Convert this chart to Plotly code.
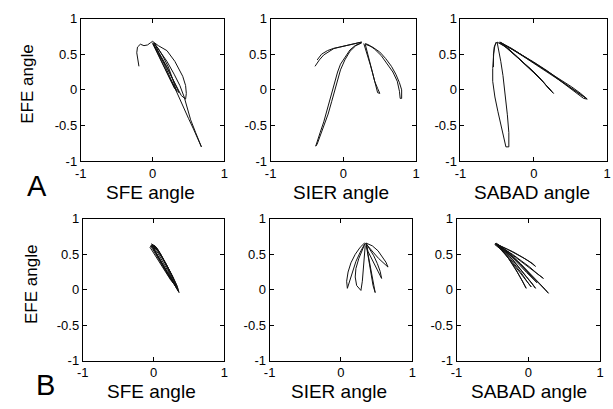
import plotly.graph_objects as go

W, H = 613, 409

# ---------------- data ----------------
x_ticks = [-1, 0, 1]
x_ticktext = ["-1", "0", "1"]
y_ticks = [-1, -0.5, 0, 0.5, 1]
y_ticktext = ["-1", "-0.5", "0", "0.5", "1"]

x_titles = ["SFE angle", "SIER angle", "SABAD angle"]
y_title = "EFE angle"
row_labels = ["A", "B"]

# Panel A1: SFE vs EFE
a1_hook_x = [-0.19, -0.20, -0.22, -0.21, -0.17, -0.12, -0.07, -0.03, 0.0]
a1_hook_y = [0.33, 0.42, 0.52, 0.60, 0.64, 0.62, 0.63, 0.66, 0.68]
a1_loop1_x = [0.0, 0.08, 0.20, 0.31, 0.42, 0.46, 0.47, 0.46, 0.40, 0.33, 0.19, 0.08, 0.01]
a1_loop1_y = [0.68, 0.62, 0.55, 0.40, 0.19, 0.06, -0.05, -0.13, -0.08, 0.06, 0.33, 0.51, 0.64]
a1_loop2_x = [0.01, 0.08, 0.15, 0.22, 0.28, 0.33, 0.30, 0.24, 0.15, 0.07, 0.02]
a1_loop2_y = [0.66, 0.58, 0.46, 0.32, 0.15, -0.01, 0.03, 0.15, 0.35, 0.52, 0.63]
a1_loop3_x = [0.02, 0.10, 0.20, 0.30, 0.38, 0.44, 0.48, 0.53, 0.60, 0.68,
              0.64, 0.57, 0.50, 0.44, 0.38, 0.33, 0.26, 0.18, 0.10, 0.03]
a1_loop3_y = [0.66, 0.55, 0.40, 0.22, 0.06, -0.10, -0.25, -0.42, -0.60, -0.80,
              -0.70, -0.55, -0.40, -0.27, -0.14, -0.02, 0.14, 0.32, 0.50, 0.65]
a1_loop4_x = [0.0, 0.06, 0.13, 0.20, 0.27, 0.34, 0.37, 0.33, 0.26, 0.18, 0.10, 0.04, 0.0]
a1_loop4_y = [0.66, 0.57, 0.45, 0.32, 0.17, 0.02, -0.04, 0.0, 0.12, 0.28, 0.44, 0.57, 0.65]

# Panel A2: SIER vs EFE
a2_arc_x = [-0.39, -0.33, -0.27, -0.20, -0.13, -0.05, 0.05, 0.15, 0.25,
            0.15, 0.05, -0.05, -0.14, -0.22, -0.30, -0.36]
a2_arc_y = [0.33, 0.42, 0.49, 0.54, 0.58, 0.60, 0.62, 0.64, 0.67,
            0.65, 0.62, 0.60, 0.58, 0.55, 0.50, 0.42]
a2_long_x = [0.25, 0.16, 0.09, 0.02, -0.04, -0.08, -0.11, -0.14, -0.18, -0.22, -0.27, -0.32, -0.38,
             -0.36, -0.31, -0.26, -0.21, -0.16, -0.12, -0.08, -0.04, 0.02, 0.09, 0.17, 0.25]
a2_long_y = [0.66, 0.62, 0.56, 0.46, 0.36, 0.25, 0.14, 0.02, -0.12, -0.30, -0.45, -0.60, -0.79,
             -0.76, -0.62, -0.48, -0.34, -0.16, 0.00, 0.15, 0.28, 0.42, 0.54, 0.62, 0.66]
a2_mid_x = [0.28, 0.31, 0.34, 0.37, 0.40, 0.43, 0.47, 0.50, 0.47, 0.44, 0.41, 0.38, 0.35, 0.32, 0.30]
a2_mid_y = [0.65, 0.56, 0.46, 0.35, 0.24, 0.12, 0.02, -0.05, -0.04, 0.08, 0.22, 0.36, 0.48, 0.58, 0.64]
a2_right_x = [0.30, 0.40, 0.50, 0.58, 0.66, 0.72, 0.77, 0.80, 0.80,
              0.78, 0.77, 0.74, 0.68, 0.60, 0.52, 0.43, 0.35, 0.30]
a2_right_y = [0.64, 0.60, 0.53, 0.44, 0.33, 0.22, 0.10, 0.00, -0.12,
              -0.12, -0.02, 0.12, 0.25, 0.37, 0.48, 0.57, 0.63, 0.65]

# Panel A3: SABAD vs EFE
a3_start_x = [-0.55, -0.55, -0.53, -0.51]
a3_start_y = [0.32, 0.50, 0.62, 0.67]
a3_vert_x = [-0.51, -0.54, -0.55, -0.56, -0.56, -0.53, -0.49, -0.45, -0.41, -0.38,
             -0.34, -0.34, -0.36, -0.39, -0.42, -0.45, -0.48, -0.50]
a3_vert_y = [0.67, 0.60, 0.45, 0.30, 0.12, -0.10, -0.30, -0.50, -0.68, -0.80,
             -0.80, -0.60, -0.35, -0.05, 0.20, 0.40, 0.58, 0.67]
a3_mid1_x = [-0.50, -0.38, -0.25, -0.12, 0.0, 0.10, 0.19, 0.27, 0.25, 0.15, 0.03, -0.10, -0.22, -0.34, -0.45]
a3_mid1_y = [0.67, 0.60, 0.48, 0.36, 0.24, 0.14, 0.04, -0.05, -0.03, 0.09, 0.22, 0.34, 0.46, 0.57, 0.66]
a3_mid2_x = [-0.47, -0.35, -0.22, -0.10, 0.02, 0.14, 0.24, 0.20, 0.08, -0.05, -0.18, -0.30, -0.42]
a3_mid2_y = [0.66, 0.58, 0.46, 0.35, 0.23, 0.10, -0.02, 0.04, 0.17, 0.30, 0.42, 0.53, 0.63]
a3_far1_x = [-0.46, -0.30, -0.12, 0.05, 0.22, 0.38, 0.52, 0.64, 0.73,
             0.68, 0.55, 0.40, 0.24, 0.08, -0.08, -0.24, -0.38, -0.47]
a3_far1_y = [0.67, 0.58, 0.46, 0.35, 0.24, 0.13, 0.04, -0.05, -0.13,
             -0.12, -0.02, 0.10, 0.22, 0.33, 0.44, 0.54, 0.62, 0.67]
a3_far2_x = [-0.45, -0.28, -0.10, 0.08, 0.26, 0.42, 0.58, 0.72, 0.64, 0.50, 0.34, 0.18, 0.0, -0.18, -0.34, -0.45]
a3_far2_y = [0.66, 0.56, 0.44, 0.32, 0.20, 0.09, -0.02, -0.12, -0.07, 0.03, 0.15, 0.27, 0.39, 0.50, 0.60, 0.66]

# Panel B1: SFE vs EFE
b1_l1_x = [-0.03, 0.02, 0.08, 0.15, 0.22, 0.29, 0.34, 0.36, 0.30, 0.22, 0.14, 0.07, 0.01, -0.03]
b1_l1_y = [0.64, 0.62, 0.54, 0.42, 0.28, 0.14, 0.03, -0.04, 0.06, 0.20, 0.34, 0.46, 0.56, 0.63]
b1_l2_x = [-0.02, 0.04, 0.10, 0.17, 0.24, 0.30, 0.32, 0.26, 0.18, 0.10, 0.03, -0.02]
b1_l2_y = [0.64, 0.60, 0.50, 0.38, 0.24, 0.10, 0.04, 0.12, 0.26, 0.40, 0.52, 0.62]
b1_l3_x = [-0.04, 0.0, 0.06, 0.13, 0.20, 0.26, 0.28, 0.22, 0.14, 0.06, 0.0, -0.04]
b1_l3_y = [0.62, 0.60, 0.52, 0.40, 0.27, 0.15, 0.10, 0.18, 0.32, 0.46, 0.56, 0.62]
b1_l4_x = [-0.03, 0.03, 0.10, 0.18, 0.25, 0.31, 0.34, 0.28, 0.20, 0.12, 0.05, -0.01]
b1_l4_y = [0.65, 0.60, 0.49, 0.36, 0.22, 0.08, 0.0, 0.10, 0.24, 0.38, 0.50, 0.60]
b1_l5_x = [-0.05, -0.02, 0.05, 0.12, 0.19, 0.25, 0.30, 0.24, 0.15, 0.07, 0.0, -0.05]
b1_l5_y = [0.60, 0.63, 0.56, 0.45, 0.32, 0.18, 0.07, 0.14, 0.28, 0.42, 0.53, 0.60]
b1_l6_x = [-0.01, 0.05, 0.12, 0.20, 0.27, 0.33, 0.35, 0.29, 0.21, 0.13, 0.06, 0.0]
b1_l6_y = [0.63, 0.58, 0.47, 0.33, 0.19, 0.06, -0.02, 0.08, 0.22, 0.36, 0.48, 0.58]

# Panel B2: SIER vs EFE
b2_l1_x = [0.33, 0.27, 0.20, 0.14, 0.10, 0.08, 0.09, 0.12, 0.16, 0.21, 0.27, 0.33]
b2_l1_y = [0.66, 0.60, 0.50, 0.38, 0.25, 0.12, 0.02, 0.12, 0.26, 0.40, 0.53, 0.64]
b2_l2_x = [0.34, 0.30, 0.25, 0.21, 0.20, 0.22, 0.28, 0.30, 0.31, 0.32, 0.34]
b2_l2_y = [0.66, 0.56, 0.44, 0.30, 0.18, 0.06, -0.01, 0.12, 0.28, 0.44, 0.62]
b2_l3_x = [0.35, 0.37, 0.39, 0.41, 0.43, 0.45, 0.48, 0.46, 0.43, 0.40, 0.38, 0.36]
b2_l3_y = [0.66, 0.55, 0.43, 0.30, 0.18, 0.06, -0.04, 0.06, 0.20, 0.36, 0.50, 0.64]
b2_l4_x = [0.35, 0.40, 0.46, 0.51, 0.55, 0.57, 0.53, 0.48, 0.43, 0.38, 0.35]
b2_l4_y = [0.66, 0.58, 0.48, 0.37, 0.26, 0.16, 0.24, 0.34, 0.44, 0.54, 0.64]
b2_l5_x = [0.35, 0.44, 0.52, 0.58, 0.63, 0.66, 0.60, 0.53, 0.46, 0.39, 0.35]
b2_l5_y = [0.66, 0.62, 0.55, 0.47, 0.39, 0.32, 0.37, 0.44, 0.52, 0.60, 0.65]

# Panel B3: SABAD vs EFE
b3_l1_x = [-0.46, -0.38, -0.30, -0.22, -0.15, -0.08, -0.03, -0.05, -0.11, -0.18, -0.26, -0.34, -0.42]
b3_l1_y = [0.65, 0.58, 0.48, 0.36, 0.24, 0.12, 0.02, 0.06, 0.18, 0.30, 0.42, 0.53, 0.63]
b3_l2_x = [-0.46, -0.36, -0.26, -0.16, -0.06, 0.03, 0.10, 0.06, -0.03, -0.12, -0.22, -0.32, -0.42]
b3_l2_y = [0.65, 0.57, 0.47, 0.35, 0.23, 0.11, 0.02, 0.08, 0.19, 0.31, 0.43, 0.54, 0.63]
b3_l3_x = [-0.46, -0.34, -0.22, -0.10, 0.02, 0.14, 0.22, 0.28, 0.24, 0.13, 0.01, -0.11, -0.23, -0.35, -0.44]
b3_l3_y = [0.65, 0.56, 0.46, 0.35, 0.22, 0.09, 0.01, -0.05, 0.0, 0.12, 0.25, 0.37, 0.48, 0.58, 0.65]
b3_l4_x = [-0.46, -0.34, -0.22, -0.10, 0.02, 0.12, 0.21, 0.17, 0.06, -0.06, -0.18, -0.30, -0.42]
b3_l4_y = [0.65, 0.58, 0.50, 0.41, 0.32, 0.23, 0.16, 0.20, 0.28, 0.37, 0.46, 0.55, 0.63]
b3_l5_x = [-0.46, -0.34, -0.22, -0.10, 0.01, 0.10, 0.06, -0.05, -0.17, -0.29, -0.41]
b3_l5_y = [0.65, 0.60, 0.54, 0.47, 0.40, 0.33, 0.37, 0.44, 0.51, 0.57, 0.63]
b3_l6_x = [-0.45, -0.35, -0.25, -0.15, -0.05, 0.04, 0.12, 0.08, -0.02, -0.12, -0.22, -0.32, -0.42]
b3_l6_y = [0.66, 0.59, 0.51, 0.40, 0.29, 0.19, 0.10, 0.14, 0.24, 0.35, 0.46, 0.56, 0.64]
b3_l7_x = [-0.47, -0.37, -0.27, -0.18, -0.10, -0.02, 0.04, 0.0, -0.08, -0.17, -0.27, -0.37, -0.45]
b3_l7_y = [0.64, 0.56, 0.46, 0.35, 0.24, 0.12, 0.04, 0.09, 0.20, 0.32, 0.44, 0.55, 0.64]

panels = [
    [(a1_hook_x, a1_hook_y), (a1_loop1_x, a1_loop1_y), (a1_loop2_x, a1_loop2_y),
     (a1_loop3_x, a1_loop3_y), (a1_loop4_x, a1_loop4_y)],
    [(a2_arc_x, a2_arc_y), (a2_long_x, a2_long_y), (a2_mid_x, a2_mid_y), (a2_right_x, a2_right_y)],
    [(a3_start_x, a3_start_y), (a3_vert_x, a3_vert_y), (a3_mid1_x, a3_mid1_y),
     (a3_mid2_x, a3_mid2_y), (a3_far1_x, a3_far1_y), (a3_far2_x, a3_far2_y)],
    [(b1_l1_x, b1_l1_y), (b1_l2_x, b1_l2_y), (b1_l3_x, b1_l3_y), (b1_l4_x, b1_l4_y),
     (b1_l5_x, b1_l5_y), (b1_l6_x, b1_l6_y)],
    [(b2_l1_x, b2_l1_y), (b2_l2_x, b2_l2_y), (b2_l3_x, b2_l3_y), (b2_l4_x, b2_l4_y), (b2_l5_x, b2_l5_y)],
    [(b3_l1_x, b3_l1_y), (b3_l2_x, b3_l2_y), (b3_l3_x, b3_l3_y), (b3_l4_x, b3_l4_y), (b3_l5_x, b3_l5_y),
     (b3_l6_x, b3_l6_y), (b3_l7_x, b3_l7_y)],
]

# ---------------- layout (pixel boxes of each axes) ----------------
boxes_px = [  # (left, right, top, bottom)
    (76, 222, 12, 160), (269, 417, 12, 160), (462, 611, 12, 160),
    (78, 222, 220, 367), (268, 413, 220, 367), (458, 604, 220, 367),
]

FONT = "Arial, Liberation Sans, sans-serif"
fig = go.Figure()
layout = dict(
    width=W, height=H, autosize=False,
    margin=dict(l=0, r=0, t=0, b=0),
    paper_bgcolor="white", plot_bgcolor="white",
    showlegend=False,
    font=dict(family=FONT, color="black"),
)

for i, (box, traces) in enumerate(zip(boxes_px, panels)):
    n = "" if i == 0 else str(i + 1)
    l, r, t, b = box
    common = dict(range=[-1, 1], showgrid=False, zeroline=False, showline=True,
                  linecolor="black", linewidth=1, mirror="ticks", ticks="inside",
                  ticklen=4, tickcolor="black", tickwidth=1,
                  tickfont=dict(family=FONT, size=13, color="black"), fixedrange=True)
    layout["xaxis" + n] = dict(common, domain=[l / W, r / W], anchor="y" + n,
                               tickvals=x_ticks, ticktext=x_ticktext)
    layout["yaxis" + n] = dict(common, domain=[1 - b / H, 1 - t / H], anchor="x" + n,
                               tickvals=y_ticks, ticktext=y_ticktext)
    for (xs, ys) in traces:
        fig.add_trace(go.Scatter(x=xs, y=ys, mode="lines", xaxis="x" + n, yaxis="y" + n,
                                 line=dict(color="#111111", width=1), hoverinfo="skip"))

annotations = []
title_pos = [(147, 193), (341, 193), (535, 193), (148, 399), (339, 399), (532, 399)]
for i, (cx, cy) in enumerate(title_pos):
    annotations.append(dict(text=x_titles[i % 3], x=cx / W, y=1 - cy / H, xref="paper", yref="paper",
                            xanchor="center", yanchor="middle", showarrow=False,
                            font=dict(family=FONT, size=19, color="black")))
for (cx, cy) in [(21, 80), (26, 288)]:
    annotations.append(dict(text=y_title, x=cx / W, y=1 - cy / H, xref="paper", yref="paper",
                            xanchor="center", yanchor="middle", showarrow=False, textangle=-90,
                            font=dict(family=FONT, size=17, color="black")))
for lab, (cx, cy) in zip(row_labels, [(32, 186), (40, 392)]):
    annotations.append(dict(text=lab, x=cx / W, y=1 - cy / H, xref="paper", yref="paper",
                            xanchor="center", yanchor="middle", showarrow=False,
                            font=dict(family=FONT, size=29, color="black")))
layout["annotations"] = annotations

fig.update_layout(**layout)
fig.write_html("out.html")
